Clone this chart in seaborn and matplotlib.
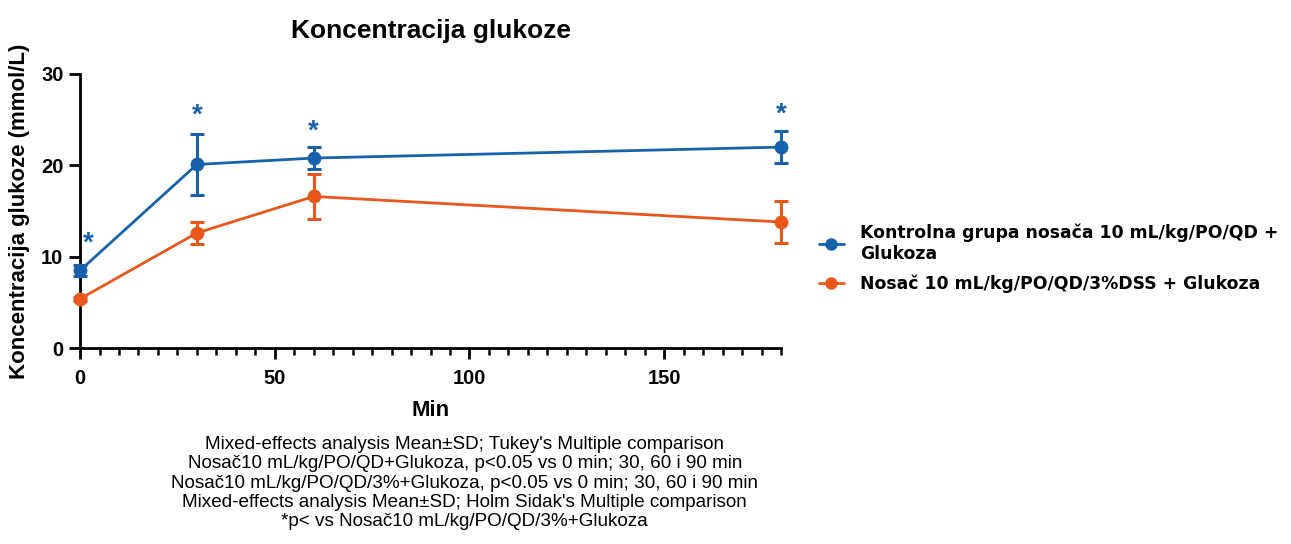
import numpy as np
import pandas as pd
import matplotlib
matplotlib.use("Agg")
import matplotlib.pyplot as plt
from matplotlib.ticker import MultipleLocator
from matplotlib.lines import Line2D
import seaborn as sns

# data
minutes = [0, 30, 60, 180]
ctrl_mean = [8.5, 20.1, 20.8, 22.0]
ctrl_sd = [0.65, 3.35, 1.2, 1.75]
dss_mean = [5.4, 12.6, 16.6, 13.8]
dss_sd = [0.2, 1.2, 2.5, 2.3]
star_y = [11.4, 25.4, 23.7, 25.5]

ctrl_label = "Kontrolna grupa nosača 10 mL/kg/PO/QD +\nGlukoza"
dss_label = "Nosač 10 mL/kg/PO/QD/3%DSS + Glukoza"
caption = [
    "Mixed-effects analysis Mean±SD; Tukey's Multiple comparison",
    "Nosač10 mL/kg/PO/QD+Glukoza, p<0.05 vs 0 min; 30, 60 i 90 min",
    "Nosač10 mL/kg/PO/QD/3%+Glukoza, p<0.05 vs 0 min; 30, 60 i 90 min",
    "Mixed-effects analysis Mean±SD; Holm Sidak's Multiple comparison",
    "*p< vs Nosač10 mL/kg/PO/QD/3%+Glukoza",
]

blue = "#1762ab"
orange = "#e8581c"

sns.set_style("ticks")
plt.rcParams.update({
    "font.family": ["Liberation Sans", "DejaVu Sans"],
    "text.color": "black",
    "axes.labelcolor": "black",
    "xtick.color": "black",
    "ytick.color": "black",
})

df = pd.DataFrame({
    "Min": minutes * 2,
    "val": ctrl_mean + dss_mean,
    "sd": ctrl_sd + dss_sd,
    "grp": ["ctrl"] * 4 + ["dss"] * 4,
})

fig = plt.figure(figsize=(12.91, 5.44), dpi=100)
ax = fig.add_axes([0.062, 0.36, 0.543, 0.504])

pal = {"ctrl": blue, "dss": orange}
for g in ["ctrl", "dss"]:
    sub = df[df["grp"] == g]
    ax.errorbar(sub["Min"], sub["val"], yerr=sub["sd"], fmt="none",
                ecolor=pal[g], elinewidth=2.2, capsize=5, capthick=2.2,
                clip_on=False, zorder=3)
sns.lineplot(data=df, x="Min", y="val", hue="grp", palette=pal,
             marker="o", markersize=10, markeredgewidth=0, linewidth=2,
             legend=False, ax=ax, zorder=4, clip_on=False)

for x, y in zip(minutes, star_y):
    dx = 2 if x == 0 else 0
    ax.text(x + dx, y, "*", color=blue, fontsize=20, fontweight="bold",
            ha="center", va="center")

ax.set_xlim(0, 180)
ax.set_ylim(0, 30)
ax.xaxis.set_major_locator(MultipleLocator(50))
ax.xaxis.set_minor_locator(MultipleLocator(5))
ax.yaxis.set_major_locator(MultipleLocator(10))
ax.yaxis.set_minor_locator(MultipleLocator(10))
sns.despine(ax=ax)
for s in ["left", "bottom"]:
    ax.spines[s].set_linewidth(2)
    ax.spines[s].set_color("black")
ax.tick_params(which="major", length=8, width=2, labelsize=14.5, pad=4, color="black")
ax.tick_params(axis="x", which="major", labelsize=14.5, pad=7)
ax.tick_params(which="minor", length=5, width=1.8, color="black")
for lab in ax.get_xticklabels() + ax.get_yticklabels():
    lab.set_fontweight("bold")

ax.set_xlabel("Min", fontsize=16, fontweight="bold", labelpad=9)
ax.set_ylabel("Koncentracija glukoze (mmol/L)", fontsize=16, fontweight="bold", labelpad=8)
ax.set_title("Koncentracija glukoze", fontsize=19, fontweight="bold", pad=26)

handles = [
    Line2D([], [], color=blue, marker="o", markersize=9, linewidth=2, markeredgewidth=0),
    Line2D([], [], color=orange, marker="o", markersize=9, linewidth=2, markeredgewidth=0),
]
fig.legend(handles, [ctrl_label, dss_label], loc="center left",
           bbox_to_anchor=(0.622, 0.525), frameon=False, handlelength=1.5,
           handletextpad=0.9, labelspacing=0.7,
           prop={"family": "DejaVu Sans", "weight": "bold", "size": 12.4})

fig.text(0.36, 0.112, "\n".join(caption), ha="center", va="center",
         fontsize=13.6, linespacing=1.16)

fig.savefig("out.png", dpi=100)
